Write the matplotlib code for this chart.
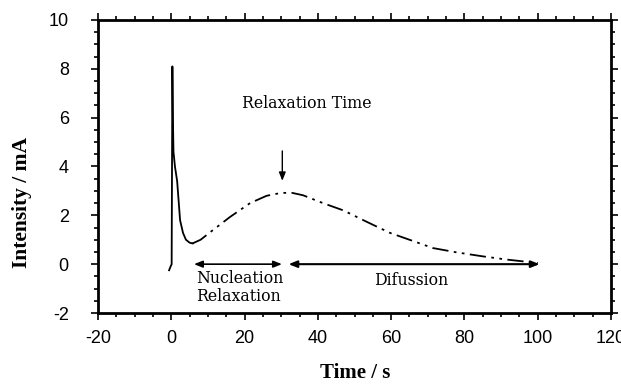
import matplotlib
matplotlib.use("Agg")
import matplotlib.pyplot as plt
from matplotlib.ticker import MultipleLocator

plt.rcParams['axes.unicode_minus'] = False

# Spike / nucleation part (solid)
t_spike = [-0.6, -0.2, 0.1, 0.3, 0.45, 0.6, 1.0, 1.6, 2.0, 2.4, 3.2, 4.0, 5.0, 5.8]
i_spike = [-0.25, -0.1, 0.0, 8.1, 5.9, 4.6, 4.0, 3.4, 2.6, 1.8, 1.28, 1.0, 0.88, 0.85]

# Growth / diffusion part (dash-dot-dot)
t_diff = [5.8, 8.0, 11.4, 16.0, 21.5, 26.0, 30.0, 33.0, 36.0, 41.4, 47.0, 53.4,
          59.7, 65.0, 71.4, 78.0, 85.0, 92.0, 100.0]
i_diff = [0.85, 1.0, 1.4, 1.93, 2.5, 2.8, 2.92, 2.92, 2.82, 2.5, 2.2, 1.73,
          1.28, 1.0, 0.66, 0.48, 0.32, 0.18, 0.05]

xticks = [-20, 0, 20, 40, 60, 80, 100, 120]
yticks = [-2, 0, 2, 4, 6, 8, 10]

fig = plt.figure(figsize=(6.21, 3.84), dpi=100)
ax = fig.add_axes([98/621, 1-313/384, (611-98)/621, (313-20)/384])

ax.plot(t_spike, i_spike, color='black', lw=1.3)
ax.plot(t_diff, i_diff, color='black', lw=1.3, linestyle=(0, (9, 3, 1.5, 3, 1.5, 3)))

ax.set_xlim(-20, 120)
ax.set_ylim(-2, 10)
ax.set_xticks(xticks)
ax.set_yticks(yticks)
ax.xaxis.set_minor_locator(MultipleLocator(5))
ax.yaxis.set_minor_locator(MultipleLocator(0.5))
ax.tick_params(which='both', direction='out', top=True, right=True, width=1.2)
ax.tick_params(which='major', length=5)
ax.tick_params(which='minor', length=3)
ax.tick_params(which='major', labelsize=13)
ax.tick_params(axis='x', pad=7)
ax.tick_params(axis='y', pad=16)
for lab in ax.get_xticklabels() + ax.get_yticklabels():
    lab.set_family('Liberation Sans')
for s in ax.spines.values():
    s.set_linewidth(2)

ax.set_xlabel('Time / s', family='Liberation Serif', fontweight='bold', fontsize=15)
ax.set_ylabel('Intensity / mA', family='Liberation Serif', fontweight='bold', fontsize=15.5)
ax.xaxis.set_label_coords((355-98)/(611-98), (313-373)/(313-20))
ax.yaxis.set_label_coords((22-98)/(611-98), (313-202)/(313-20))
ax.xaxis.label.set_va('center')
ax.yaxis.label.set_va('center')

afont = dict(family='DejaVu Serif', fontsize=11.3)
ax.text(37, 6.6, 'Relaxation Time', ha='center', va='center', **afont)
ax.annotate('', xy=(30.3, 3.3), xytext=(30.3, 4.75),
            arrowprops=dict(arrowstyle='-|>,head_length=0.5,head_width=0.2', color='black', lw=1.0))
ax.annotate('', xy=(6.2, 0), xytext=(30.2, 0),
            arrowprops=dict(arrowstyle='<|-|>,head_length=0.5,head_width=0.2', color='black', lw=1.2,
                            shrinkA=0, shrinkB=0))
ax.annotate('', xy=(32.0, 0), xytext=(100.5, 0),
            arrowprops=dict(arrowstyle='<|-|>,head_length=0.5,head_width=0.2', color='black', lw=1.5,
                            shrinkA=0, shrinkB=0))
ax.text(6.8, -0.22, 'Nucleation\nRelaxation', ha='left', va='top', linespacing=1.1, **afont)
ax.text(65.5, -0.65, 'Difussion', ha='center', va='center', **afont)

fig.savefig('out.png', dpi=100)
